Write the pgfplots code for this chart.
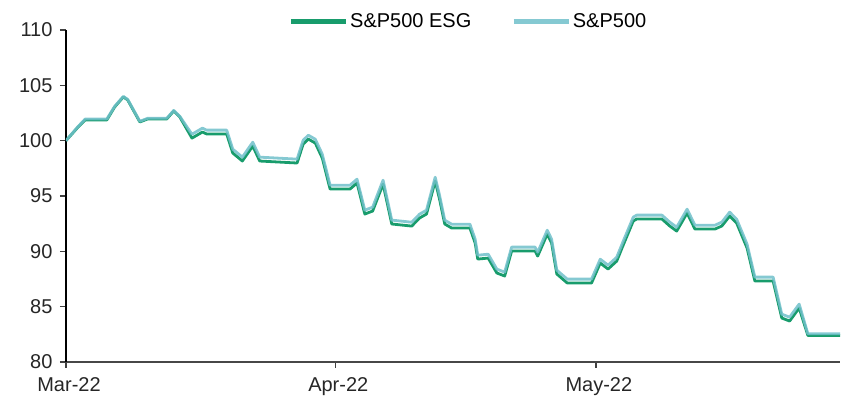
\documentclass[border=0pt]{standalone}
\usepackage{pgfplots}
\pgfplotsset{compat=1.18}
\usepackage{fontspec}
\setmainfont{Liberation Sans}
\definecolor{esg}{RGB}{24,156,108}
\definecolor{spx}{RGB}{112,192,202}
\begin{document}
\begin{tikzpicture}
\useasboundingbox (-66pt,-36pt) rectangle (775pt,362pt);
\begin{axis}[
  at={(0,0)}, anchor=south west,
  scale only axis, width=774pt, height=332pt,
  xmin=0, xmax=89.1, ymin=80, ymax=110,
  axis x line*=bottom, axis y line*=left,
  x axis line style={line width=2.5pt, color=black!72},
  y axis line style={line width=1.8pt, color=black},
  xtick={0,31,61}, xticklabels={Mar-22,Apr-22,May-22},
  ytick={80,85,...,110},
  tick align=outside, major tick length=6pt,
  tick style={line width=1.5pt, color=black!75},
  font=\fontsize{20}{24}\selectfont,
  ticklabel style={font=\fontsize{20}{24}\selectfont, text=black!85},
  yticklabel style={xshift=-4pt},
  xticklabel style={yshift=-6pt, xshift=3pt},
  /pgf/number format/assume math mode=true,
  legend columns=2,
  legend style={draw=none, fill=none, at={(0.52,1.025)}, anchor=center,
    font=\fontsize{20}{24}\selectfont,
    /tikz/every even column/.append style={column sep=38pt}},
  legend image code/.code={\draw[#1, line width=4.5pt] (0pt,0pt) -- (55pt,0pt);},
]
\addplot[color=esg, line width=2.8pt, line join=round] coordinates {
(0,100.0) (1.3,101.15) (2.2,101.87) (4.7,101.87) (5.6,103.04) (6.6,103.95) (7.1,103.68)
(8.5,101.69) (9.4,101.96) (11.6,101.96) (12.4,102.68) (13.1,102.14)
(14.5,100.23) (15.7,100.78) (16.2,100.60) (18.5,100.60) (19.2,98.88) (20.3,98.16) (21.5,99.51)
(22.3,98.16) (26.6,97.98) (27.3,99.69) (27.9,100.14) (28.7,99.78) (29.5,98.43) (30.4,95.63)
(32.7,95.63) (33.5,96.17) (34.4,93.37) (35.3,93.64) (36.5,96.08) (37.5,92.47) (39.8,92.28)
(40.7,93.01) (41.5,93.37) (42.5,96.35) (43.0,94.72) (43.6,92.47) (44.4,92.10) (46.5,92.10)
(47.1,90.75) (47.4,89.30) (48.6,89.39) (49.6,88.04) (50.5,87.77) (51.3,90.03) (54.0,90.03)
(54.3,89.57) (55.4,91.56) (55.9,90.75) (56.5,87.95) (57.7,87.14) (60.5,87.14) (61.5,88.94)
(62.4,88.40) (63.4,89.12) (64.1,90.48) (65.3,92.74) (65.7,92.92) (68.6,92.92) (69.5,92.29)
(70.3,91.83) (71.5,93.46) (72.4,92.01) (74.7,92.01) (75.5,92.29) (76.4,93.19) (77.2,92.56)
(78.4,90.30) (79.3,87.32) (81.4,87.32) (82.4,83.97) (83.3,83.70) (84.4,84.88) (85.4,82.40)
(86.4,82.40) (89.1,82.40)
};
\addlegendentry{S\&P500 ESG}
\addplot[color=spx, line width=2.8pt, line join=round, opacity=0.85] coordinates {
(0,100.0) (1.3,101.2) (2.2,101.95) (4.7,101.95) (5.6,103.1) (6.6,104.0) (7.1,103.73)
(8.5,101.75) (9.4,102.02) (11.6,102.02) (12.4,102.73) (13.1,102.2)
(14.5,100.58) (15.7,101.13) (16.2,100.95) (18.5,100.95) (19.2,99.23) (20.3,98.51) (21.5,99.86)
(22.3,98.51) (26.6,98.33) (27.3,100.04) (27.9,100.49) (28.7,100.13) (29.5,98.78) (30.4,95.98)
(32.7,95.98) (33.5,96.52) (34.4,93.72) (35.3,93.99) (36.5,96.43) (37.5,92.82) (39.8,92.63)
(40.7,93.36) (41.5,93.72) (42.5,96.70) (43.0,95.07) (43.6,92.82) (44.4,92.45) (46.5,92.45)
(47.1,91.10) (47.4,89.65) (48.6,89.74) (49.6,88.39) (50.5,88.12) (51.3,90.38) (54.0,90.38)
(54.3,89.92) (55.4,91.91) (55.9,91.10) (56.5,88.30) (57.7,87.49) (60.5,87.49) (61.5,89.29)
(62.4,88.75) (63.4,89.47) (64.1,90.83) (65.3,93.09) (65.7,93.27) (68.6,93.27) (69.5,92.64)
(70.3,92.18) (71.5,93.81) (72.4,92.36) (74.7,92.36) (75.5,92.64) (76.4,93.54) (77.2,92.91)
(78.4,90.65) (79.3,87.67) (81.4,87.67) (82.4,84.32) (83.3,84.05) (84.4,85.23) (85.4,82.55)
(86.4,82.55) (89.1,82.55)
};
\addlegendentry{S\&P500}
\end{axis}
\end{tikzpicture}
\end{document}
